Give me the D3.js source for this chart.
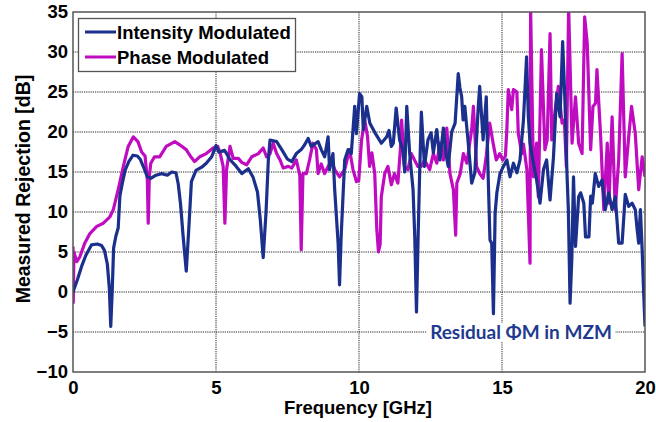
<!DOCTYPE html>
<html><head><meta charset="utf-8">
<script src="https://cdn.jsdelivr.net/npm/d3@7"></script>
<style>
body{margin:0;background:#fff;}
svg{display:block;}
</style></head>
<body><svg id="chart" width="656" height="422"></svg>
<script>
// ---- data ----
const xTicks = [0, 5, 10, 15, 20];
const yTicks = [-10, -5, 0, 5, 10, 15, 20, 25, 30, 35];
const seriesNames = ["Intensity Modulated", "Phase Modulated"];

const imFreq = [0,0.15,0.3,0.45,0.65,0.85,1.0,1.1,1.2,1.27,1.32,1.37,1.42,1.5,1.58,1.64,1.72,1.82,1.95,2.1,2.25,2.35,2.48,2.6,2.72,2.9,3.1,3.3,3.45,3.6,3.68,3.76,3.85,3.96,4.05,4.14,4.3,4.5,4.66,4.85,5.0,5.1,5.3,5.5,5.66,5.9,6.13,6.3,6.45,6.55,6.65,6.75,6.83,6.89,7.12,7.3,7.5,7.65,7.81,7.98,8.1,8.22,8.33,8.45,8.57,8.68,8.8,8.92,8.97,9.09,9.15,9.27,9.32,9.38,9.5,9.62,9.73,9.85,9.91,10.02,10.1,10.15,10.27,10.38,10.56,10.78,10.97,11.05,11.13,11.2,11.3,11.42,11.53,11.6,11.67,11.77,11.89,11.95,12.01,12.07,12.12,12.18,12.29,12.41,12.52,12.6,12.72,12.83,12.95,13.05,13.12,13.24,13.36,13.47,13.53,13.59,13.64,13.7,13.82,13.94,14.05,14.17,14.22,14.34,14.45,14.51,14.58,14.64,14.7,14.76,14.82,14.93,15.05,15.17,15.28,15.4,15.52,15.63,15.75,15.86,15.92,15.98,16.1,16.21,16.33,16.45,16.56,16.68,16.8,16.91,17.03,17.12,17.2,17.27,17.32,17.38,17.44,17.5,17.57,17.68,17.75,17.86,17.92,18.04,18.1,18.16,18.26,18.38,18.5,18.61,18.73,18.85,18.96,19.08,19.2,19.31,19.43,19.55,19.66,19.72,19.78,19.84,19.9,19.95,20.0];
const imValues = [0.0,1.5,3.2,4.6,5.9,6.0,5.8,5.2,3.5,0.5,-4.3,0.0,5.5,7.0,8.0,12.0,13.5,15.2,16.3,17.1,17.0,16.6,15.5,14.4,14.2,14.6,14.8,14.6,15.0,14.9,13.5,11.0,7.0,2.6,8.0,13.8,15.2,15.6,16.1,16.9,18.3,17.5,17.7,16.5,15.9,14.8,15.4,14.3,12.5,9.0,4.3,10.0,16.5,19.0,18.8,17.8,16.6,16.3,17.3,17.8,18.4,19.2,18.2,18.5,18.8,17.8,16.9,19.4,15.3,17.3,12.8,6.1,0.9,7.3,16.5,17.8,17.3,23.2,19.8,24.8,24.4,20.3,23.2,21.1,19.9,18.6,19.4,20.2,18.2,18.6,23.0,19.0,17.8,15.0,23.2,17.4,12.8,6.9,-2.5,7.4,14.8,22.5,15.7,19.0,19.9,17.4,20.3,16.5,20.5,17.0,15.7,20.0,21.1,27.3,25.5,24.4,21.5,23.2,18.6,13.6,14.9,23.2,25.7,19.0,24.4,15.3,6.5,6.1,-2.7,9.9,12.4,14.8,15.7,16.5,14.4,16.1,14.9,16.5,21.5,29.4,22.0,18.6,16.1,14.0,11.1,15.3,16.5,11.5,16.9,24.8,21.9,31.3,24.0,15.0,10.3,-1.4,4.0,14.4,5.7,11.9,12.4,11.1,6.9,6.9,12.0,11.1,14.8,13.2,14.0,10.3,12.4,10.3,11.9,6.1,6.1,12.2,10.7,11.1,10.3,8.0,6.1,10.3,5.3,0.3,-4.3];

const pmFreq = [0,0.01,0.03,0.13,0.24,0.41,0.59,0.83,1.06,1.29,1.41,1.58,1.76,1.93,2.11,2.27,2.4,2.52,2.6,2.63,2.67,2.72,2.85,3.03,3.26,3.56,3.73,3.96,4.1,4.25,4.43,4.66,4.9,5.06,5.15,5.25,5.31,5.37,5.49,5.6,5.78,5.9,6.07,6.25,6.48,6.65,6.77,6.89,7.0,7.12,7.24,7.35,7.53,7.65,7.81,7.93,7.98,8.04,8.16,8.27,8.39,8.51,8.57,8.68,8.8,8.92,9.04,9.15,9.32,9.5,9.67,9.79,9.91,9.99,10.09,10.2,10.3,10.37,10.45,10.55,10.62,10.68,10.74,10.78,10.9,11.01,11.13,11.24,11.36,11.45,11.49,11.59,11.71,11.83,11.94,12.06,12.18,12.29,12.47,12.6,12.72,12.83,12.95,13.07,13.18,13.3,13.38,13.42,13.54,13.65,13.77,13.94,14.0,14.11,14.22,14.34,14.45,14.57,14.69,14.8,14.92,15.03,15.12,15.17,15.22,15.34,15.4,15.52,15.57,15.69,15.75,15.87,15.98,16.0,16.1,16.21,16.27,16.38,16.5,16.58,16.68,16.74,16.86,16.97,17.1,17.18,17.25,17.33,17.45,17.57,17.68,17.8,17.89,17.98,18.1,18.18,18.27,18.32,18.45,18.56,18.68,18.74,18.85,18.96,19.08,19.2,19.31,19.43,19.53,19.66,19.78,19.9,20.0];
const pmValues = [5.7,-1.3,5.0,3.8,4.4,6.1,7.3,8.2,8.6,9.4,10.3,12.8,15.7,18.2,19.4,18.8,17.5,17.0,14.0,8.6,14.5,16.1,16.9,16.9,18.2,18.8,18.4,17.8,17.0,16.3,16.9,17.3,18.0,18.2,17.3,15.7,8.6,15.3,18.2,16.7,16.7,16.2,15.9,16.9,17.3,18.0,16.9,17.3,18.6,17.3,16.5,15.5,15.7,15.5,16.5,14.6,5.3,14.8,14.8,16.5,18.6,17.8,14.8,16.0,14.8,15.7,16.5,15.3,14.4,15.3,17.8,15.3,13.8,13.9,19.0,21.5,19.4,15.7,17.4,14.8,8.0,5.0,6.0,11.9,14.8,15.7,13.4,14.8,13.6,18.0,21.5,15.7,15.3,17.3,16.5,15.7,15.7,16.5,15.3,17.3,16.1,18.6,16.5,20.5,14.8,12.8,7.1,13.6,14.8,17.3,16.1,20.3,23.2,15.7,14.8,14.2,17.0,21.1,18.6,16.5,17.3,16.5,17.0,20.3,25.3,22.8,25.3,25.0,19.8,17.3,18.5,15.3,3.6,35.5,14.4,18.6,11.9,30.3,17.8,19.0,32.3,19.0,22.8,25.7,21.1,21.5,15.7,35.5,18.6,24.4,18.6,17.3,34.4,31.1,17.8,23.2,23.6,27.8,19.4,10.3,18.6,11.1,21.9,10.3,16.5,29.8,14.4,19.4,23.2,19.8,12.8,16.9,14.4];

const annotation = "Residual \u03A6M in MZM";

// ---- chart ----
const W = 656, H = 422;
const m = {left: 73, right: 11, top: 12, bottom: 50};
const svg = d3.select("#chart");
svg.append("rect").attr("width", W).attr("height", H).attr("fill", "#fff");

const x = d3.scaleLinear().domain([0, 20]).range([m.left, W - m.right]);
const y = d3.scaleLinear().domain([-10, 35]).range([H - m.bottom, m.top]);
const font = "'Liberation Sans', Arial, sans-serif";

// grid
const grid = svg.append("g");
grid.selectAll("line.h").data(yTicks.slice(1, -1)).join("line")
  .attr("x1", x(0)).attr("x2", x(20))
  .attr("y1", d => y(d)).attr("y2", d => y(d))
  .attr("stroke", "#222").attr("stroke-width", 1).attr("stroke-dasharray", "1.2,1");
grid.selectAll("line.v").data(xTicks.slice(1, -1)).join("line")
  .attr("y1", y(-10)).attr("y2", y(35))
  .attr("x1", d => x(d)).attr("x2", d => x(d))
  .attr("stroke", "#222").attr("stroke-width", 1).attr("stroke-dasharray", "1.2,1");

// clip
svg.append("clipPath").attr("id", "clip").append("rect")
  .attr("x", x(0)).attr("y", y(35)).attr("width", x(20) - x(0)).attr("height", y(-10) - y(35));

const line = d3.line().x(d => x(d[0])).y(d => y(d[1]));
const imData = imFreq.map((f, i) => [f, imValues[i]]);
const pmData = pmFreq.map((f, i) => [f, pmValues[i]]);
const colors = ["#1b2f8c", "#c00cc0"];

const plot = svg.append("g").attr("clip-path", "url(#clip)");
plot.append("path").datum(pmData).attr("d", line).attr("fill", "none")
  .attr("stroke", colors[1]).attr("stroke-width", 3.2).attr("stroke-linejoin", "round");
plot.append("path").datum(imData).attr("d", line).attr("fill", "none")
  .attr("stroke", colors[0]).attr("stroke-width", 3.2).attr("stroke-linejoin", "round");

// annotation
const ann = svg.append("g");
ann.append("rect").attr("x", 427).attr("y", 323).attr("width", 188).attr("height", 19).attr("fill", "#fff");
ann.append("text").attr("x", 521).attr("y", 338.5).attr("text-anchor", "middle")
  .attr("font-family", "Lato, 'Open Sans', sans-serif").attr("font-weight", 700)
  .attr("font-size", 19).attr("fill", "#1f3a8f").text(annotation);

// frame
svg.append("rect").attr("x", x(0)).attr("y", y(35)).attr("width", x(20) - x(0)).attr("height", y(-10) - y(35))
  .attr("fill", "none").attr("stroke", "#555").attr("stroke-width", 1.5);

// axes
const xAxis = svg.append("g").attr("transform", `translate(0,${y(-10)})`)
  .call(d3.axisBottom(x).tickValues(xTicks).tickSize(0).tickPadding(9).tickFormat(d3.format("d")));
const yAxis = svg.append("g").attr("transform", `translate(${x(0)},0)`)
  .call(d3.axisLeft(y).tickValues(yTicks).tickSize(0).tickPadding(5).tickFormat(d3.format("d")));
[xAxis, yAxis].forEach(g => {
  g.select(".domain").remove();
  g.selectAll("text").attr("font-family", font).attr("font-weight", "bold").attr("font-size", 18.5).attr("fill", "#000");
});

// titles
svg.append("text").attr("x", 358).attr("y", 414).attr("text-anchor", "middle")
  .attr("font-family", font).attr("font-weight", "bold").attr("font-size", 18.5).text("Frequency [GHz]");
svg.append("text").attr("transform", "translate(30,189) rotate(-90)").attr("text-anchor", "middle")
  .attr("font-family", font).attr("font-weight", "bold").attr("font-size", 19.5).text("Measured Rejection [dB]");

// legend
const lg = svg.append("g");
lg.append("rect").attr("x", 78.5).attr("y", 18.5).attr("width", 217).attr("height", 53)
  .attr("fill", "#fff").attr("stroke", "#555").attr("stroke-width", 1.3);
seriesNames.forEach((name, i) => {
  const yy = 32 + i * 25;
  lg.append("line").attr("x1", 85).attr("x2", 116).attr("y1", yy).attr("y2", yy)
    .attr("stroke", colors[i]).attr("stroke-width", 3);
  lg.append("text").attr("x", 117).attr("y", yy + 7).attr("font-family", font)
    .attr("font-weight", "bold").attr("font-size", 18.5).attr("fill", "#000").text(name);
});
</script></body></html>
